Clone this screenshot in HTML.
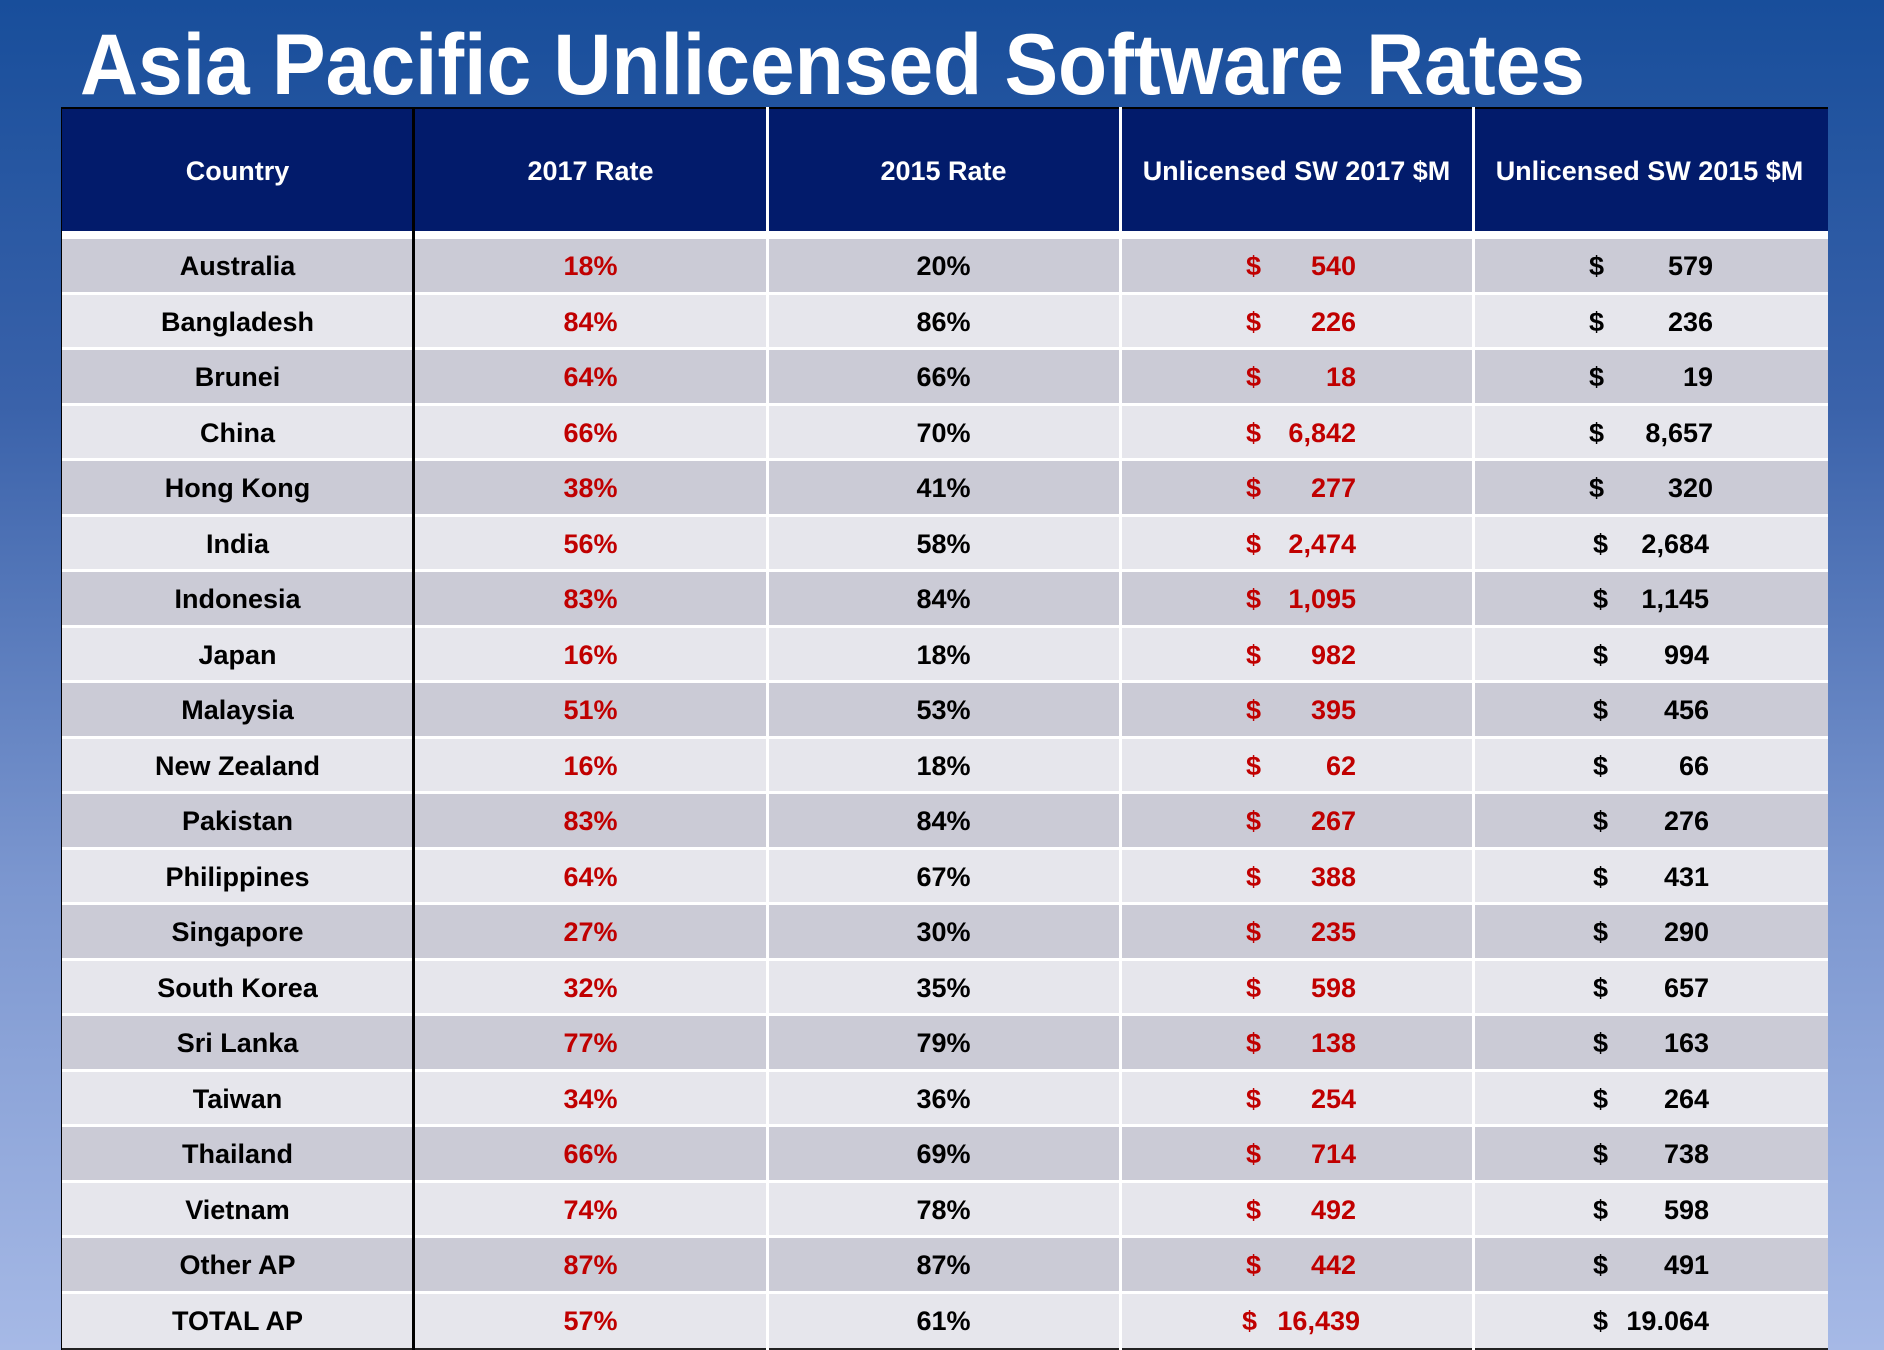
<!DOCTYPE html>
<html><head><meta charset="utf-8"><style>
html,body{margin:0;padding:0}
body{width:1884px;height:1350px;overflow:hidden;position:relative;background:linear-gradient(180deg,#184e9b 0%,#3a62aa 30%,#7b96cf 65%,#a6b9e6 100%);font-family:"Liberation Sans",Arial,sans-serif;font-weight:bold}
.title{position:absolute;left:80px;top:14px}
.tbl{position:absolute;left:61px;top:107px;width:1767px;height:1243px}
.hdr{position:absolute;left:0;top:0;width:1767px;height:124px;background:#021b6b;border-top:2px solid #000;box-sizing:border-box}
.hc{position:absolute;top:0;height:124px;line-height:124px;text-align:center;color:#fff;font-size:27px;width:353px}
.gap{position:absolute;left:0;top:124px;width:1767px;height:8px;background:#fff}
.row{position:absolute;left:0;width:1767px;height:55.5px;border-bottom:3px solid #fff;box-sizing:border-box}
.a{background:#cbcbd6}.b{background:#e6e6ec}
.c{position:absolute;top:0;line-height:54px;font-size:27px;text-align:center;width:353px;color:#000}
.c1{left:0}.c2{left:353px;color:#c00000}.c3{left:706px}
.d4{position:absolute;top:0;line-height:54px;font-size:27px;left:1185px;color:#c00000}
.n4{position:absolute;top:0;line-height:54px;font-size:27px;left:1059px;width:236px;text-align:right;color:#c00000}
.d5{position:absolute;top:0;line-height:54px;font-size:27px;left:1528px}
.n5{position:absolute;top:0;line-height:54px;font-size:27px;left:1412px;width:240px;text-align:right}
.vl{position:absolute;top:0;width:3px;height:1243px;background:#fff}
</style></head><body>
<svg class="title" width="1560" height="100"><text x="0" y="80" font-family="Liberation Sans, Arial, sans-serif" font-weight="bold" font-size="86" fill="#fff" textLength="1505" lengthAdjust="spacingAndGlyphs">Asia Pacific Unlicensed Software Rates</text></svg>
<div class="tbl">
<div class="hdr">
<div class="hc" style="left:0">Country</div>
<div class="hc" style="left:353px">2017 Rate</div>
<div class="hc" style="left:706px">2015 Rate</div>
<div class="hc" style="left:1059px">Unlicensed SW 2017 $M</div>
<div class="hc" style="left:1412px">Unlicensed SW 2015 $M</div>
</div>
<div class="gap"></div>

<div class="row a" style="top:132px"><div class="c c1">Australia</div><div class="c c2">18%</div><div class="c c3">20%</div><div class="d4">$</div><div class="n4">540</div><div class="d5">$</div><div class="n5">579</div></div>
<div class="row b" style="top:187.5px"><div class="c c1">Bangladesh</div><div class="c c2">84%</div><div class="c c3">86%</div><div class="d4">$</div><div class="n4">226</div><div class="d5">$</div><div class="n5">236</div></div>
<div class="row a" style="top:243px"><div class="c c1">Brunei</div><div class="c c2">64%</div><div class="c c3">66%</div><div class="d4">$</div><div class="n4">18</div><div class="d5">$</div><div class="n5">19</div></div>
<div class="row b" style="top:298.5px"><div class="c c1">China</div><div class="c c2">66%</div><div class="c c3">70%</div><div class="d4">$</div><div class="n4">6,842</div><div class="d5">$</div><div class="n5">8,657</div></div>
<div class="row a" style="top:354px"><div class="c c1">Hong Kong</div><div class="c c2">38%</div><div class="c c3">41%</div><div class="d4">$</div><div class="n4">277</div><div class="d5">$</div><div class="n5">320</div></div>
<div class="row b" style="top:409.5px"><div class="c c1">India</div><div class="c c2">56%</div><div class="c c3">58%</div><div class="d4">$</div><div class="n4">2,474</div><div class="d5" style="left:1532px">$</div><div class="n5" style="width:236px">2,684</div></div>
<div class="row a" style="top:465px"><div class="c c1">Indonesia</div><div class="c c2">83%</div><div class="c c3">84%</div><div class="d4">$</div><div class="n4">1,095</div><div class="d5" style="left:1532px">$</div><div class="n5" style="width:236px">1,145</div></div>
<div class="row b" style="top:520.5px"><div class="c c1">Japan</div><div class="c c2">16%</div><div class="c c3">18%</div><div class="d4">$</div><div class="n4">982</div><div class="d5" style="left:1532px">$</div><div class="n5" style="width:236px">994</div></div>
<div class="row a" style="top:576px"><div class="c c1">Malaysia</div><div class="c c2">51%</div><div class="c c3">53%</div><div class="d4">$</div><div class="n4">395</div><div class="d5" style="left:1532px">$</div><div class="n5" style="width:236px">456</div></div>
<div class="row b" style="top:631.5px"><div class="c c1">New Zealand</div><div class="c c2">16%</div><div class="c c3">18%</div><div class="d4">$</div><div class="n4">62</div><div class="d5" style="left:1532px">$</div><div class="n5" style="width:236px">66</div></div>
<div class="row a" style="top:687px"><div class="c c1">Pakistan</div><div class="c c2">83%</div><div class="c c3">84%</div><div class="d4">$</div><div class="n4">267</div><div class="d5" style="left:1532px">$</div><div class="n5" style="width:236px">276</div></div>
<div class="row b" style="top:742.5px"><div class="c c1">Philippines</div><div class="c c2">64%</div><div class="c c3">67%</div><div class="d4">$</div><div class="n4">388</div><div class="d5" style="left:1532px">$</div><div class="n5" style="width:236px">431</div></div>
<div class="row a" style="top:798px"><div class="c c1">Singapore</div><div class="c c2">27%</div><div class="c c3">30%</div><div class="d4">$</div><div class="n4">235</div><div class="d5" style="left:1532px">$</div><div class="n5" style="width:236px">290</div></div>
<div class="row b" style="top:853.5px"><div class="c c1">South Korea</div><div class="c c2">32%</div><div class="c c3">35%</div><div class="d4">$</div><div class="n4">598</div><div class="d5" style="left:1532px">$</div><div class="n5" style="width:236px">657</div></div>
<div class="row a" style="top:909px"><div class="c c1">Sri Lanka</div><div class="c c2">77%</div><div class="c c3">79%</div><div class="d4">$</div><div class="n4">138</div><div class="d5" style="left:1532px">$</div><div class="n5" style="width:236px">163</div></div>
<div class="row b" style="top:964.5px"><div class="c c1">Taiwan</div><div class="c c2">34%</div><div class="c c3">36%</div><div class="d4">$</div><div class="n4">254</div><div class="d5" style="left:1532px">$</div><div class="n5" style="width:236px">264</div></div>
<div class="row a" style="top:1020px"><div class="c c1">Thailand</div><div class="c c2">66%</div><div class="c c3">69%</div><div class="d4">$</div><div class="n4">714</div><div class="d5" style="left:1532px">$</div><div class="n5" style="width:236px">738</div></div>
<div class="row b" style="top:1075.5px"><div class="c c1">Vietnam</div><div class="c c2">74%</div><div class="c c3">78%</div><div class="d4">$</div><div class="n4">492</div><div class="d5" style="left:1532px">$</div><div class="n5" style="width:236px">598</div></div>
<div class="row a" style="top:1131px"><div class="c c1">Other AP</div><div class="c c2">87%</div><div class="c c3">87%</div><div class="d4">$</div><div class="n4">442</div><div class="d5" style="left:1532px">$</div><div class="n5" style="width:236px">491</div></div>
<div class="row b" style="top:1186.5px;height:56.5px;border-bottom:2px solid #222"><div class="c c1">TOTAL AP</div><div class="c c2">57%</div><div class="c c3">61%</div><div class="d4" style="left:1181px">$</div><div class="n4" style="width:240px">16,439</div><div class="d5" style="left:1532px">$</div><div class="n5" style="width:236px">19.064</div></div>

<div class="vl" style="left:705px"></div>
<div class="vl" style="left:1058px"></div>
<div class="vl" style="left:1411px"></div>
<div class="vl" style="left:351px;background:#000"></div>
<div style="position:absolute;left:0;top:0;width:1px;height:1243px;background:#000"></div>
</div>
</body></html>
